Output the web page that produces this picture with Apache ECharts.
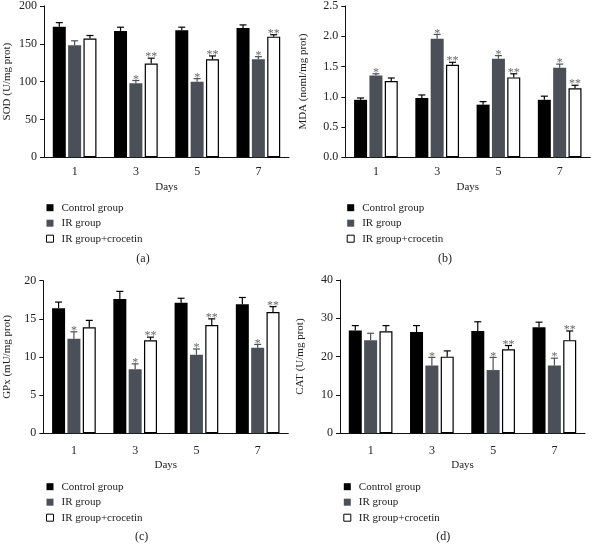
<!DOCTYPE html>
<html><head><meta charset="utf-8">
<script src="https://cdn.jsdelivr.net/npm/echarts@6/dist/echarts.min.js"></script>
<style>html,body{margin:0;padding:0;background:#fff}#c{width:592px;height:544px}</style>
</head><body><div id="c"></div>
<script>
const days = ['1', '3', '5', '7'];
const groupNames = ['Control group', 'IR group', 'IR group+crocetin'];

const sodControl = [172.5, 167, 168, 171];
const sodControlErr = [5.5, 5, 4, 4];
const sodIR = [148, 98, 100, 129.5];
const sodIRErr = [6, 3.5, 4, 3.5];
const sodCroc = [157, 124, 129.5, 159.5];
const sodCrocErr = [4, 7, 4.5, 2.5];
const sodIRSig = ['', '*', '*', '*'];
const sodCrocSig = ['', '**', '**', '**'];

const mdaControl = [0.95, 0.98, 0.87, 0.95];
const mdaControlErr = [0.03, 0.05, 0.05, 0.06];
const mdaIR = [1.35, 1.96, 1.63, 1.48];
const mdaIRErr = [0.03, 0.07, 0.05, 0.06];
const mdaCroc = [1.26, 1.53, 1.32, 1.14];
const mdaCrocErr = [0.05, 0.04, 0.06, 0.05];
const mdaIRSig = ['*', '*', '*', '*'];
const mdaCrocSig = ['', '**', '**', '**'];

const gpxControl = [16.4, 17.6, 17.1, 16.9];
const gpxControlErr = [0.8, 1.0, 0.6, 0.9];
const gpxIR = [12.4, 8.4, 10.3, 11.2];
const gpxIRErr = [0.9, 0.7, 0.75, 0.45];
const gpxCroc = [13.9, 12.2, 14.2, 15.9];
const gpxCrocErr = [0.9, 0.4, 0.8, 0.7];
const gpxIRSig = ['*', '*', '*', '*'];
const gpxCrocSig = ['', '**', '**', '**'];

const catControl = [26.8, 26.4, 26.7, 27.7];
const catControlErr = [1.3, 1.7, 2.4, 1.3];
const catIR = [24.3, 17.7, 16.5, 17.7];
const catIRErr = [1.8, 2.1, 3.3, 1.9];
const catCroc = [26.6, 20.0, 21.9, 24.3];
const catCrocErr = [1.5, 1.5, 1.0, 2.4];
const catIRSig = ['', '*', '*', '*'];
const catCrocSig = ['', '', '**', '**'];

const sodTicks = {min: 0, max: 200, interval: 50};
const mdaTicks = {min: 0, max: 2.5, interval: 0.5};
const gpxTicks = {min: 0, max: 20, interval: 5};
const catTicks = {min: 0, max: 40, interval: 10};

const FONT = 'Liberation Serif';
const IRC = '#4b4f58';
const BW = 13, GAP = 0.18, OFF = BW * (1 + GAP);

const panels = [
  {name: 'SOD (U/mg prot)', ticks: sodTicks, fmt: v => String(v),
   vals: [sodControl, sodIR, sodCroc], errs: [sodControlErr, sodIRErr, sodCrocErr], sigs: [null, sodIRSig, sodCrocSig],
   grid: {left: 44, top: 5.3, width: 245, height: 152}, nameGap: 31, tickLen: 5, lm: 9, xGap: 24,
   legend: {left: 46, top: 201.7}, tag: '(a)', tagPos: [143, 259]},
  {name: 'MDA (noml/mg prot)', ticks: mdaTicks, fmt: v => v.toFixed(1),
   vals: [mdaControl, mdaIR, mdaCroc], errs: [mdaControlErr, mdaIRErr, mdaCrocErr], sigs: [null, mdaIRSig, mdaCrocSig],
   grid: {left: 345.3, top: 4.8, width: 245, height: 152.5}, nameGap: 37, tickLen: 5, lm: 9, xGap: 24,
   legend: {left: 346.7, top: 201.7}, tag: '(b)', tagPos: [445, 259]},
  {name: 'GPx (mU/mg prot)', ticks: gpxTicks, fmt: v => String(v),
   vals: [gpxControl, gpxIR, gpxCroc], errs: [gpxControlErr, gpxIRErr, gpxCrocErr], sigs: [null, gpxIRSig, gpxCrocSig],
   grid: {left: 43.3, top: 280.7, width: 245, height: 152.6}, nameGap: 31, tickLen: 6, lm: 12, xGap: 26,
   legend: {left: 46, top: 480.7}, tag: '(c)', tagPos: [141.7, 536.5]},
  {name: 'CAT (U/mg prot)', ticks: catTicks, fmt: v => String(v),
   vals: [catControl, catIR, catCroc], errs: [catControlErr, catIRErr, catCrocErr], sigs: [null, catIRSig, catCrocSig],
   grid: {left: 340, top: 280, width: 245, height: 153.3}, nameGap: 34, tickLen: 6, lm: 12, xGap: 26,
   legend: {left: 343.3, top: 480.7}, tag: '(d)', tagPos: [443.3, 537]}
];

const barStyles = [
  {color: '#000', borderColor: '#000', borderWidth: 0},
  {color: IRC, borderColor: IRC, borderWidth: 0},
  {color: '#fff', borderColor: '#000', borderWidth: 1.2}
];
const errColors = ['#000', IRC, '#000'];

const grid = [], xAxis = [], yAxis = [], series = [], legend = [], graphic = [];
panels.forEach((p, gi) => {
  grid.push(Object.assign({containLabel: false}, p.grid));
  xAxis.push({
    type: 'category', gridIndex: gi, data: days, boundaryGap: true,
    name: 'Days', nameLocation: 'middle', nameGap: p.xGap,
    nameTextStyle: {fontFamily: FONT, fontSize: 11, color: '#222'},
    axisLine: {lineStyle: {color: '#111', width: 1}},
    axisTick: {alignWithLabel: true, length: p.tickLen, lineStyle: {color: '#111'}},
    axisLabel: {fontFamily: FONT, fontSize: 12, color: '#222', margin: p.lm}
  });
  yAxis.push({
    type: 'value', gridIndex: gi, min: p.ticks.min, max: p.ticks.max, interval: p.ticks.interval,
    name: p.name, nameLocation: 'middle', nameRotate: 90, nameGap: p.nameGap,
    nameTextStyle: {fontFamily: FONT, fontSize: 11, color: '#222'},
    axisLine: {show: true, lineStyle: {color: '#111', width: 1}},
    axisTick: {show: true, length: 4, lineStyle: {color: '#111'}},
    splitLine: {show: false},
    axisLabel: {fontFamily: FONT, fontSize: 12, color: '#222', margin: 7, formatter: p.fmt}
  });
  for (let k = 0; k < 3; k++) {
    series.push({
      type: 'bar', name: groupNames[k], xAxisIndex: gi, yAxisIndex: gi,
      data: p.vals[k], barWidth: BW, barGap: (GAP * 100) + '%',
      itemStyle: barStyles[k], silent: true, animation: false
    });
  }
  for (let k = 0; k < 3; k++) {
    const vals = p.vals[k], errs = p.errs[k], sigs = p.sigs[k], col = errColors[k];
    series.push({
      type: 'custom', xAxisIndex: gi, yAxisIndex: gi, silent: true, animation: false, z: 5,
      data: vals.map((v, i) => [i, v, v + errs[i]]),
      renderItem: (params, api) => {
        const i = api.value(0);
        const b = api.coord([i, api.value(1)]);
        const t = api.coord([i, api.value(2)]);
        const x = b[0] + (k - 1) * OFF;
        const ch = [
          {type: 'line', shape: {x1: x, y1: b[1], x2: x, y2: t[1]}, style: {stroke: col, lineWidth: 1.2}},
          {type: 'line', shape: {x1: x - 3.5, y1: t[1], x2: x + 3.5, y2: t[1]}, style: {stroke: col, lineWidth: 1.2}}
        ];
        const s = sigs ? sigs[params.dataIndex] : '';
        if (s) ch.push({type: 'text', x: x, y: t[1] - 1,
          style: {text: s, fill: '#6a6a6a', font: '12px "' + FONT + '"', align: 'center', verticalAlign: 'middle'}});
        return {type: 'group', children: ch};
      }
    });
  }
  legend.push({
    orient: 'vertical', left: p.legend.left, top: p.legend.top, padding: 0,
    itemWidth: 7, itemHeight: 7, itemGap: 3.5, icon: 'rect', selectedMode: false,
    textStyle: {fontFamily: FONT, fontSize: 11, color: '#222', lineHeight: 12, padding: [0, 0, 0, 3]},
    data: [
      {name: groupNames[0], itemStyle: {color: '#000', borderWidth: 0}},
      {name: groupNames[1], itemStyle: {color: IRC, borderWidth: 0}},
      {name: groupNames[2], itemStyle: {color: '#fff', borderColor: '#000', borderWidth: 1}}
    ]
  });
  graphic.push({type: 'text', x: p.tagPos[0], y: p.tagPos[1],
    style: {text: p.tag, font: '12px "' + FONT + '"', fill: '#222', align: 'center', verticalAlign: 'middle'}});
});

const chart = echarts.init(document.getElementById('c'), null, {renderer: 'canvas'});
chart.setOption({animation: false, backgroundColor: '#fff', grid, xAxis, yAxis, series, legend, graphic});
</script></body></html>
